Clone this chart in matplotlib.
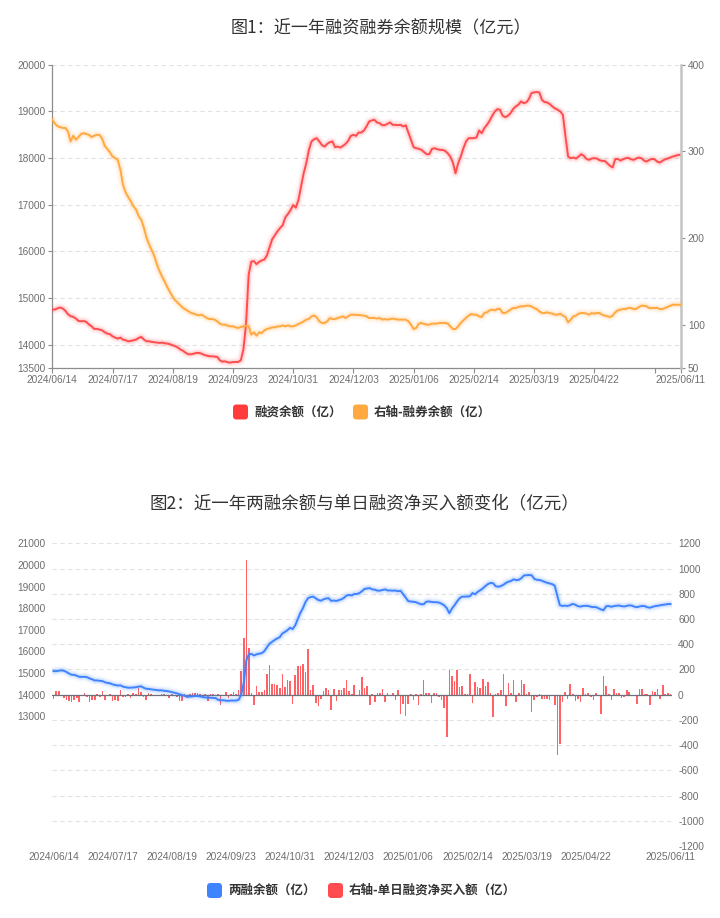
import numpy as np
import matplotlib
matplotlib.use("Agg")
import matplotlib.pyplot as plt
from matplotlib.patches import FancyBboxPatch
from matplotlib.transforms import IdentityTransform

plt.rcParams['font.family'] = ['Noto Sans CJK SC', 'DejaVu Sans']
plt.rcParams['axes.unicode_minus'] = False

# ---------------- data ----------------
TICK_LABELS = ['2024/06/14', '2024/07/17', '2024/08/19', '2024/09/23', '2024/10/31',
               '2024/12/03', '2025/01/06', '2025/02/14', '2025/03/19', '2025/04/22',
               '2025/06/11']
LABEL_STEP = 23

# 融资余额 (亿)
fin_balance = [
    14753, 14753, 14780, 14796, 14775, 14725, 14653, 14610, 14596, 14560,
    14510, 14502, 14505, 14488, 14431, 14395, 14338, 14338, 14324, 14309,
    14266, 14238, 14224, 14180, 14152, 14130, 14152, 14109, 14095, 14073,
    14080, 14095, 14109, 14145, 14166, 14109, 14073, 14073, 14059, 14052,
    14044, 14037, 14044, 14030, 14023, 14008, 13987, 13966, 13937, 13894,
    13866, 13823, 13794, 13794, 13808, 13823, 13823, 13808, 13780, 13765,
    13751, 13751, 13744, 13737, 13665, 13636, 13643, 13622, 13615, 13629,
    13629, 13629, 13665, 13900, 14450, 15500, 15780, 15790, 15726, 15776,
    15805, 15827, 15917, 16094, 16260, 16345, 16430, 16500, 16560, 16730,
    16800, 16886, 16993, 16936, 17100, 17387, 17674, 17888, 18175, 18354,
    18404, 18425, 18354, 18275, 18246, 18303, 18340, 18354, 18232, 18246,
    18225, 18260, 18303, 18368, 18475, 18497, 18475, 18547, 18547, 18590,
    18676, 18783, 18805, 18819, 18762, 18747, 18704, 18704, 18733, 18762,
    18711, 18711, 18704, 18711, 18676, 18700, 18547, 18389, 18232, 18210,
    18196, 18175, 18125, 18082, 18082, 18196, 18210, 18189, 18175, 18175,
    18153, 18103, 18032, 17903, 17674, 17888, 18032, 18210, 18354, 18425,
    18425, 18425, 18440, 18590, 18533, 18640, 18711, 18797, 18905, 18998,
    19048, 19034, 18905, 18876, 18905, 18962, 19050, 19105, 19141, 19213,
    19177, 19191, 19263, 19391, 19406, 19413, 19406, 19248, 19198, 19191,
    19155, 19105, 19062, 19034, 18998, 18926, 18461, 18032, 17996, 18010,
    17989, 18032, 18082, 18046, 17981, 17960, 17989, 17996, 17989, 17953,
    17938, 17938, 17888, 17831, 17800, 17974, 17981, 17946, 17974, 17996,
    18003, 17974, 17960, 17989, 18010, 17996, 17946, 17924, 17960, 17981,
    17974, 17924, 17903, 17938, 17974, 17989, 18010, 18032, 18046, 18067,
    18067,
]

# 融券余额 (亿, 右轴)
sec_balance = [
    336.5, 332, 329, 328, 327, 327, 323, 311.5, 318, 313.5,
    316.5, 320, 321, 320, 319, 316.5, 318, 319, 319, 315,
    306.5, 302.7, 299, 294, 292.3, 290, 279, 261.5, 252.7, 247.3,
    242.3, 236.5, 232.7, 225, 221, 211.5, 200, 192.3, 185.8, 178.8,
    169.2, 161.5, 155, 149.2, 143, 137.3, 132, 128, 125, 122,
    119.2, 117.3, 115.4, 113.5, 112.7, 111.5, 110.8, 111.5, 109.6, 107.7,
    106.5, 106.5, 105.8, 103.8, 101.2, 100, 100, 98.8, 98, 98,
    96.9, 96.2, 97.3, 98, 98.8, 98, 88.5, 91.2, 87.3, 91.2,
    90.4, 93.5, 95, 95.8, 96.9, 96.9, 98, 98, 99.2, 98,
    99.2, 98, 98, 99.2, 100.8, 102, 103.8, 105.8, 106.5, 109.6,
    110.4, 108.5, 103.8, 102, 102, 103.8, 107.7, 106.5, 106.5, 107.7,
    108.5, 109.6, 107.7, 109.6, 111.5, 111.5, 111.2, 111.2, 110.8, 110.4,
    109.6, 107.7, 107.7, 107.7, 107, 107.7, 105.8, 106.5, 105.8, 106.5,
    107, 106.5, 105.8, 105.8, 105.8, 105.8, 103.8, 100, 95, 96.2,
    101.2, 102, 100.8, 100, 100, 101.2, 101.2, 101.2, 102, 102,
    102, 101.2, 98, 95, 95, 98, 102, 105, 107.7, 110.4,
    112.3, 111.5, 111.5, 109.6, 108.8, 113.5, 114.2, 116.5, 117.3, 116.5,
    118.1, 118.1, 113.5, 113.5, 115.4, 117.3, 119.2, 119.2, 120.4, 121.2,
    121.2, 121.9, 121.9, 121.2, 119.2, 118.1, 115.4, 113.5, 113.5, 114.2,
    113.5, 112.7, 111.5, 111.5, 112.7, 110.4, 108.8, 102.7, 105.8, 109.6,
    110.4, 112.7, 113.5, 113.5, 112.7, 111.5, 113.5, 112.7, 113.5, 113.5,
    111.5, 110.4, 109.6, 108.8, 110.4, 114.2, 116.5, 117.3, 118.1, 118.1,
    119.2, 119.2, 118.1, 118.1, 120.4, 121.9, 121.9, 121.2, 119.2, 119.2,
    119.2, 119.2, 118.1, 118.1, 119.2, 120.4, 121.9, 123, 123, 123,
    123,
]

# 单日融资净买入额 (亿, 右轴)
net_buy = [
    -37, 29, 29, -5, -24, -45, -50, -58, -40, -24,
    -58, -5, 10, -18, -58, -45, -45, 5, -18, 29,
    -45, -10, 5, -50, -45, -50, 40, -18, -18, 5,
    -26, 16, 5, 53, 21, -18, -45, 16, 3, -10,
    -10, -10, 8, 8, -13, -26, 3, -10, -18, -50,
    -50, 3, -26, 8, 13, 13, 13, 3, -10, 3,
    -50, 8, 3, -10, 8, -85, -10, 21, -26, 3,
    18, 5, 34, 188, 452, 1066, 368, 10, -79, 66,
    21, 21, 34, 161, 233, 82, 82, 74, 53, 161,
    61, 114, 106, -71, 153, 225, 225, 246, 180, 365,
    40, 74, -66, -93, -32, 29, 53, 34, -124, 45,
    -53, 34, 34, 53, 114, 32, 5, 74, -10, 34,
    140, 53, 69, -85, 5, -58, 13, 13, 45, -58,
    16, -13, 16, -40, 34, -151, -71, -172, -77, 5,
    -45, 5, -85, 5, 114, 16, 16, -64, 13, 13,
    -19, -45, -106, -336, 198, 146, 108, 193, 61, 71,
    5, 8, 161, -64, 100, 61, 56, 122, 66, 100,
    16, -177, 5, 13, 34, 167, -93, 95, 16, 114,
    -58, 16, 119, 82, 8, 21, -138, -45, -19, 5,
    -32, -32, -32, -45, -13, -85, -476, -388, -58, 24,
    -32, 87, 5, -50, -32, -58, 56, 5, 16, -20,
    -45, 10, -8, -151, 146, 71, 5, -45, 45, 13,
    13, -26, -18, 34, 21, -10, -13, -71, 48, 48,
    3, 3, -79, 32, 24, 48, -32, 74, 5, 16,
    8,
]

fin = np.array(fin_balance, dtype=float)
sec = np.array(sec_balance, dtype=float)
net = np.array(net_buy, dtype=float)
total = fin + sec              # 两融余额 = 融资余额 + 融券余额
N = len(fin)
x = np.arange(N)

# ---------------- style ----------------
W, H = 720, 918
RED = '#FF4D4F'
ORANGE = '#FFA940'
BLUE = '#3F83FF'
BAR_RED = '#FF5457'
TICK_C = '#6E6E6E'
GRID_C = '#E2E2E2'
TXT = '#333333'
NUM_FONT = ['Liberation Sans', 'DejaVu Sans']

fig = plt.figure(figsize=(W / 100, H / 100), dpi=100)
fig.patch.set_facecolor('white')


def rect(l, t, r, b):
    return [l / W, 1 - b / H, (r - l) / W, (b - t) / H]


def glow_line(ax, xs, ys, color, z=3):
    for lw, a in [(7.0, 0.04), (5.0, 0.07), (3.4, 0.12)]:
        ax.plot(xs, ys, color=color, lw=lw, alpha=a, solid_capstyle='round',
                solid_joinstyle='round', zorder=z)
    ax.plot(xs, ys, color=color, lw=1.4, solid_joinstyle='round', zorder=z + 0.1)


tick_pos = list(range(0, N, LABEL_STEP)) + [N - 1]
tick_lab = TICK_LABELS[:10] + [''] * (len(tick_pos) - 11) + [TICK_LABELS[-1]]

# ================= Chart 1 =================
ax1 = fig.add_axes(rect(52.3, 64.7, 680.7, 368))
ax1r = ax1.twinx()

glow_line(ax1, x, fin, RED)
glow_line(ax1r, x, sec, ORANGE)

ax1.set_xlim(0, N - 1)
ax1.set_ylim(13500, 20000)
ax1.set_yticks([13500] + list(range(14000, 20001, 1000)))
ax1r.set_ylim(50, 400)
ax1r.set_yticks([50, 100, 200, 300, 400])

for v in range(14000, 20001, 1000):
    ax1.axhline(v, color=GRID_C, lw=0.8, ls=(0, (4, 3)), zorder=0)

ax1.set_xticks(tick_pos)
ax1.set_xticklabels(tick_lab)

for sp in ['top', 'right']:
    ax1.spines[sp].set_visible(False)
ax1.spines['left'].set_color('#8C8C8C')
ax1.spines['bottom'].set_color('#8C8C8C')
ax1.spines['left'].set_linewidth(0.9)
ax1.spines['bottom'].set_linewidth(0.9)
for sp in ['top', 'left', 'bottom']:
    ax1r.spines[sp].set_visible(False)
ax1r.spines['right'].set_color('#C4C4C4')
ax1r.spines['right'].set_linewidth(1.8)

ax1.tick_params(axis='y', length=3, width=0.8, color='#8C8C8C', pad=2.2,
                labelsize=7.3, labelcolor=TICK_C)
ax1.tick_params(axis='x', length=3.5, width=0.8, color='#8C8C8C', pad=1.6,
                labelsize=7.3, labelcolor=TICK_C)
ax1r.tick_params(axis='y', length=3, width=0.8, color='#8C8C8C', pad=2.2,
                 labelsize=7.3, labelcolor=TICK_C)
for lab in ax1.get_xticklabels() + ax1.get_yticklabels() + ax1r.get_yticklabels():
    lab.set_family(NUM_FONT)

fig.text(381 / W, 1 - 28 / H, '图1：近一年融资融券余额规模（亿元）', ha='center', va='center',
         fontsize=12.3, color=TXT)

# ================= Chart 2 =================
ax2 = fig.add_axes(rect(52.3, 543.3, 671.7, 846))   # bars, right-hand scale
ax2l = ax2.twinx()                                   # line, left-hand scale
ax2.yaxis.tick_right()
ax2l.yaxis.tick_left()

ax2.bar(x, net, width=0.62, color=BAR_RED, alpha=0.92, zorder=2)
ax2.axhline(0, color='#6E7079', lw=0.9, zorder=2.5)
glow_line(ax2l, x, total, BLUE)

ax2.set_xlim(-0.5, N - 0.5)
ax2.set_ylim(-1200, 1200)
ax2.set_yticks(list(range(-1200, 1201, 200)))
ax2l.set_ylim(7000, 21000)
ax2l.set_yticks(list(range(13000, 21001, 1000)))

for v in range(-1200, 1201, 200):
    ax2.axhline(v, color=GRID_C, lw=0.8, ls=(0, (4, 3)), zorder=0)

ax2.set_xticks([p for p, l in zip(tick_pos, tick_lab) if l])
ax2.set_xticklabels([l for l in tick_lab if l])

for a in (ax2, ax2l):
    for sp in a.spines.values():
        sp.set_visible(False)

ax2.tick_params(axis='y', length=0, pad=4.6, labelsize=7.3, labelcolor=TICK_C)
ax2l.tick_params(axis='y', length=0, pad=5.0, labelsize=7.3, labelcolor=TICK_C)
ax2.tick_params(axis='x', length=0, pad=4.2, labelsize=7.3, labelcolor=TICK_C)
for lab in ax2.get_xticklabels() + ax2.get_yticklabels() + ax2l.get_yticklabels():
    lab.set_family(NUM_FONT)

fig.text(364 / W, 1 - 504 / H, '图2：近一年两融余额与单日融资净买入额变化（亿元）', ha='center',
         va='center', fontsize=12.6, color=TXT)


# ================= legends =================
def legend_item(px_left, py_center, color, label):
    size = 15
    box = FancyBboxPatch((px_left, H - py_center - size / 2), size, size,
                         boxstyle='round,pad=0,rounding_size=3.5',
                         transform=IdentityTransform(), facecolor=color,
                         edgecolor='none')
    fig.patches.append(box)
    fig.text((px_left + size + 6) / W, 1 - py_center / H, label, ha='left', va='center',
             fontsize=9.0, color=TXT, fontweight='bold')


legend_item(233, 412, '#FF3B3B', '融资余额（亿）')
legend_item(353, 412, ORANGE, '右轴-融券余额（亿）')
legend_item(207, 890.5, BLUE, '两融余额（亿）')
legend_item(328, 890.5, RED, '右轴-单日融资净买入额（亿）')

fig.savefig('out.png', dpi=100)
